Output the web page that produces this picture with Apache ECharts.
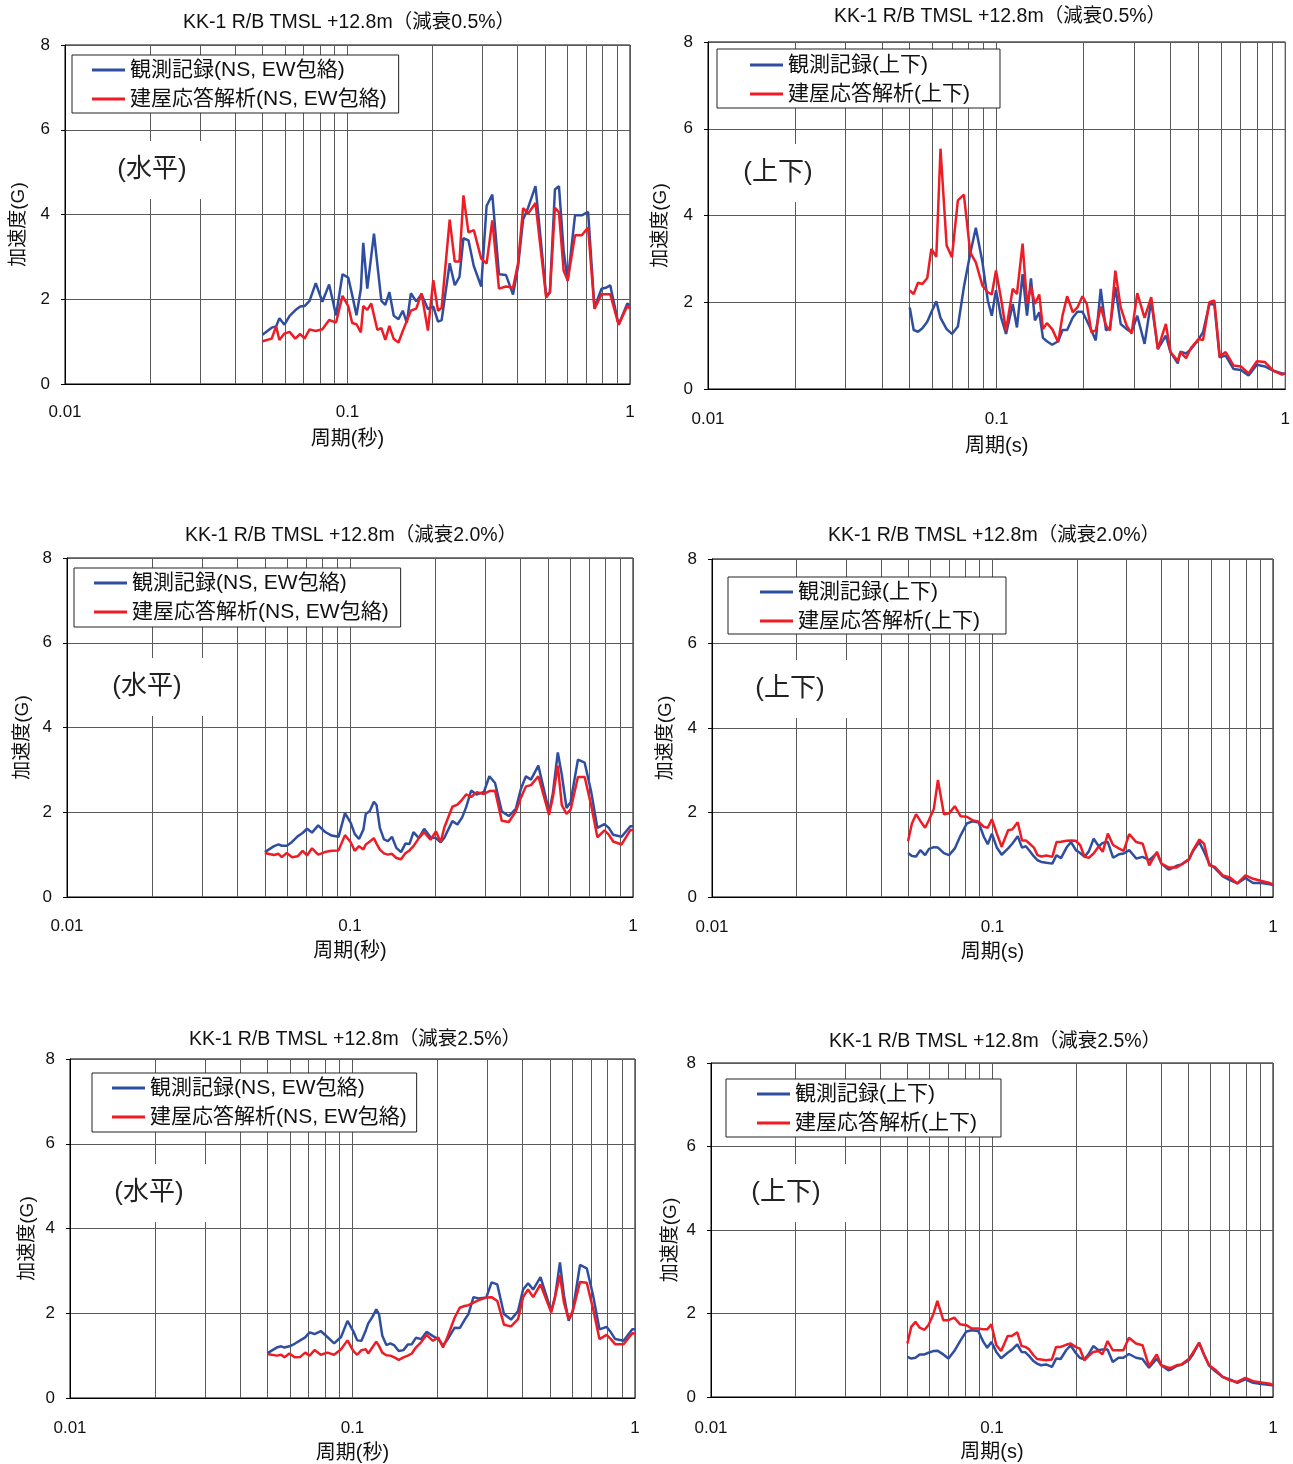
<!DOCTYPE html>
<html><head><meta charset="utf-8">
<script src="https://cdn.jsdelivr.net/npm/echarts@6/dist/echarts.min.js"></script>
<style>html,body{margin:0;padding:0;background:#fff}#c{width:1293px;height:1464px}</style>
</head><body><div id="c"></div>
<script>
// ---- data ----
const periodsH = [0.050,0.0539,0.0559,0.0574,0.0598,0.0624,0.0653,0.0680,0.0705,0.0734,
0.0772,0.0815,0.0861,0.0911,0.0960,0.1006,0.1039,0.1076,0.1115,0.1137,
0.1175,0.1214,0.1241,0.1275,0.1318,0.1361,0.1407,0.1458,0.1515,0.1569,
0.1622,0.1676,0.1751,0.1828,0.1926,0.2012,0.2091,0.2154,0.2300,0.2397,
0.2491,0.2573,0.2680,0.2800,0.2974,0.3107,0.3255,0.3437,0.3640,0.3855,
0.4016,0.4184,0.4359,0.4629,0.5051,0.5206,0.5424,0.5604,0.5823,0.6017,
0.6388,0.6749,0.7107,0.7485,0.7929,0.8215,0.8511,0.9114,0.9784,1.0];
const periodsV = [0.0500,0.0516,0.0534,0.0553,0.0575,0.0594,0.0618,0.0639,0.0671,0.0700,
0.0734,0.0770,0.0810,0.0847,0.0893,0.0932,0.0962,0.0995,0.1036,0.1078,
0.1137,0.1176,0.1230,0.1274,0.1315,0.1357,0.1405,0.1447,0.1493,0.1558,
0.1634,0.1691,0.1755,0.1836,0.1905,0.1983,0.2053,0.2130,0.2205,0.2294,
0.2393,0.2471,0.2578,0.2690,0.2821,0.2935,0.3071,0.3255,0.3432,0.3619,
0.3857,0.4002,0.4242,0.4333,0.4533,0.4717,0.5014,0.5189,0.5458,0.5679,
0.5925,0.6216,0.6622,0.7019,0.7461,0.7973,0.8496,0.9102,0.9752,1.0];

// horizontal, damping 0.5%
const h05Obs = [1.16,1.33,1.36,1.55,1.40,1.61,1.74,1.83,1.84,1.96,
2.38,1.94,2.35,1.62,2.59,2.51,2.10,1.62,2.24,3.33,
2.25,3.03,3.55,2.83,1.96,1.87,2.17,1.61,1.53,1.73,
1.45,2.14,1.95,2.12,1.77,1.83,1.47,1.51,2.85,2.33,
2.53,3.44,3.39,2.78,2.30,4.20,4.47,2.59,2.57,2.11,
2.78,3.88,4.16,4.67,2.08,2.17,4.59,4.67,3.14,2.43,
3.98,3.98,4.06,1.80,2.25,2.27,2.33,1.40,1.90,1.86];
const h05Ana = [1.01,1.07,1.36,1.04,1.19,1.23,1.07,1.18,1.07,1.29,
1.25,1.29,1.51,1.45,2.08,1.84,1.44,1.41,1.22,1.84,
1.75,1.90,1.62,1.28,1.32,1.04,1.37,1.06,0.98,1.25,
1.49,1.73,1.78,2.14,1.26,2.45,1.73,1.80,3.88,2.89,
2.89,4.45,3.58,3.63,2.96,2.84,3.86,2.25,2.30,2.27,
2.85,4.15,4.02,4.27,2.04,2.16,4.16,4.05,2.67,2.45,
3.51,3.51,3.69,1.77,2.12,2.12,2.12,1.40,1.84,1.78];
// horizontal, damping 2.0%
const h20Obs = [1.06,1.20,1.24,1.21,1.21,1.30,1.43,1.51,1.61,1.52,
1.69,1.54,1.45,1.42,1.98,1.75,1.49,1.37,1.59,1.96,
2.03,2.25,2.17,1.63,1.36,1.32,1.42,1.16,1.06,1.26,
1.25,1.53,1.39,1.61,1.41,1.39,1.29,1.40,1.79,1.71,
1.88,2.12,2.51,2.42,2.48,2.85,2.69,2.02,1.91,2.08,
2.55,2.85,2.77,3.10,2.01,2.43,3.41,2.88,2.10,2.24,
3.24,3.17,2.50,1.63,1.72,1.63,1.47,1.42,1.67,1.67];
const h20Ana = [1.04,0.99,1.02,0.94,1.04,0.94,0.96,1.09,0.98,1.15,
1.00,1.06,1.09,1.10,1.46,1.29,1.09,1.20,1.12,1.24,
1.31,1.39,1.26,1.12,1.03,1.00,1.02,0.92,0.89,1.03,
1.10,1.20,1.39,1.53,1.35,1.55,1.29,1.64,2.13,2.18,
2.30,2.42,2.36,2.47,2.43,2.50,2.51,1.80,1.77,2.02,
2.34,2.61,2.64,2.85,1.94,2.34,3.10,2.17,1.96,2.06,
2.83,2.83,2.18,1.41,1.57,1.47,1.31,1.24,1.58,1.58];
// horizontal, damping 2.5%
const h25Obs = [1.06,1.19,1.22,1.19,1.22,1.28,1.36,1.43,1.55,1.51,
1.58,1.44,1.29,1.44,1.82,1.58,1.36,1.35,1.60,1.76,
1.91,2.09,1.98,1.47,1.25,1.29,1.24,1.11,1.13,1.26,
1.27,1.42,1.39,1.56,1.46,1.39,1.24,1.35,1.66,1.65,
1.84,1.98,2.38,2.35,2.37,2.73,2.68,1.98,1.85,2.05,
2.56,2.71,2.56,2.85,2.05,2.37,3.20,2.42,1.82,2.05,
3.14,3.06,2.42,1.62,1.68,1.55,1.39,1.35,1.62,1.62];
const h25Ana = [1.04,1.00,1.02,0.96,1.05,0.96,0.97,1.07,1.00,1.13,
1.02,1.07,1.02,1.15,1.36,1.11,1.02,1.13,1.15,1.05,
1.19,1.33,1.23,1.07,1.01,1.00,0.96,0.90,0.96,1.00,
1.05,1.19,1.32,1.49,1.35,1.43,1.19,1.39,1.90,2.13,
2.17,2.19,2.25,2.31,2.37,2.38,2.29,1.73,1.69,1.86,
2.38,2.56,2.38,2.68,2.02,2.37,2.90,2.25,1.86,2.04,
2.74,2.72,2.10,1.39,1.49,1.39,1.27,1.27,1.53,1.52];
// vertical, damping 0.5%
const v05Obs = [1.88,1.36,1.32,1.40,1.55,1.77,2.02,1.64,1.38,1.27,
1.44,2.35,3.12,3.72,2.92,2.04,1.69,2.28,1.65,1.27,
1.96,1.42,2.65,1.69,2.55,1.58,1.77,1.18,1.10,1.02,
1.10,1.36,1.36,1.65,1.78,1.78,1.58,1.35,1.12,2.31,
1.35,1.42,2.35,1.50,1.38,1.31,1.69,1.04,2.04,0.92,
1.23,0.85,0.59,0.86,0.82,0.92,1.15,1.31,1.96,1.95,
0.73,0.77,0.46,0.44,0.31,0.56,0.52,0.42,0.36,0.36];
const v05Ana = [2.27,2.19,2.45,2.42,2.56,3.23,3.05,5.54,3.31,3.04,
4.35,4.48,3.15,2.92,2.38,2.23,2.18,2.73,2.08,1.35,
2.31,2.19,3.35,1.96,2.36,1.96,2.18,1.38,1.52,1.38,
1.08,1.69,2.14,1.77,1.88,2.14,1.96,1.31,1.35,1.90,
1.46,1.35,2.73,1.88,1.46,1.28,2.21,1.64,2.12,0.92,
1.50,0.85,0.65,0.85,0.71,0.95,1.15,1.13,2.00,2.04,
0.75,0.85,0.54,0.52,0.36,0.64,0.62,0.42,0.33,0.36];
// vertical, damping 2.0%
const v20Obs = [1.04,0.97,0.96,1.11,0.99,1.14,1.18,1.17,1.04,0.99,
1.15,1.46,1.74,1.79,1.76,1.42,1.25,1.50,1.17,1.00,
1.15,1.26,1.44,1.17,1.20,1.09,0.96,0.87,0.83,0.81,
0.79,0.99,0.92,1.17,1.30,1.11,1.04,0.95,1.08,1.38,
1.20,1.28,1.30,0.93,1.01,1.03,1.11,0.91,0.95,0.87,
1.04,0.79,0.65,0.67,0.74,0.77,0.89,1.09,1.30,1.07,
0.79,0.68,0.49,0.40,0.32,0.45,0.33,0.33,0.30,0.28];
const v20Ana = [1.32,1.74,1.96,1.80,1.64,1.83,2.09,2.77,1.96,1.98,
2.15,1.91,1.90,1.82,1.78,1.66,1.64,1.84,1.50,1.19,
1.58,1.60,1.77,1.34,1.34,1.26,1.17,0.99,0.96,0.98,
0.95,1.30,1.31,1.33,1.34,1.33,1.23,0.95,0.93,1.03,
1.20,1.07,1.50,1.23,1.15,1.09,1.49,1.30,1.26,0.75,
1.07,0.79,0.70,0.70,0.70,0.77,0.89,1.11,1.36,1.26,
0.75,0.71,0.51,0.46,0.32,0.51,0.43,0.38,0.33,0.30];
// vertical, damping 2.5%
const v25Obs = [0.96,0.92,0.94,1.02,1.02,1.06,1.10,1.11,1.02,0.92,
1.10,1.34,1.57,1.60,1.58,1.32,1.18,1.32,1.08,0.93,
1.06,1.13,1.26,1.08,1.07,0.98,0.86,0.80,0.76,0.78,
0.72,0.92,0.91,1.12,1.24,1.06,0.94,0.90,1.02,1.22,
1.12,1.14,1.14,0.84,0.94,0.94,1.03,0.94,0.91,0.70,
0.92,0.76,0.64,0.66,0.74,0.77,0.88,1.02,1.30,1.02,
0.75,0.62,0.48,0.42,0.34,0.42,0.34,0.31,0.29,0.28];
const v25Ana = [1.28,1.68,1.80,1.66,1.61,1.72,1.98,2.30,1.84,1.84,
1.90,1.74,1.72,1.64,1.64,1.62,1.62,1.74,1.24,1.10,
1.46,1.46,1.55,1.22,1.20,1.14,1.00,0.91,0.90,0.88,
0.90,1.20,1.20,1.25,1.28,1.20,1.16,0.88,0.98,1.08,
1.10,1.02,1.34,1.12,1.12,1.12,1.42,1.28,1.24,0.74,
1.02,0.76,0.70,0.70,0.76,0.78,0.91,1.06,1.30,1.02,
0.76,0.66,0.48,0.40,0.36,0.46,0.38,0.35,0.32,0.28];

const minorTicks = [0.02,0.03,0.04,0.05,0.06,0.07,0.08,0.09,0.2,0.3,0.4,0.5,0.6,0.7,0.8,0.9];
const titleTexts = ['KK-1 R/B TMSL +12.8m（減衰0.5%）','KK-1 R/B TMSL +12.8m（減衰2.0%）','KK-1 R/B TMSL +12.8m（減衰2.5%）'];
const obsH = '観測記録(NS, EW包絡)', anaH = '建屋応答解析(NS, EW包絡)';
const obsV = '観測記録(上下)', anaV = '建屋応答解析(上下)';

// ---- layout ----
const FONT = "'Liberation Sans','Noto Sans CJK JP',sans-serif";
const BLUE = '#2f4ea0', RED = '#ee1c25', GRIDC = '#5a5a5a';
const panels = [
 {g:{left:65,top:45,width:565,height:339}, per:periodsH, obs:h05Obs, ana:h05Ana, on:obsH, an:anaH, t:titleTexts[0], tx:349, ty:23,
  lg:{left:72,top:55,padding:[3,12,2,20]}, lab:'(水平)', lx:152, ly:170, xn:'周期(秒)', xg:45, lm:20, yg:37},
 {g:{left:708,top:42,width:580,height:347}, per:periodsV, obs:v05Obs, ana:v05Ana, on:obsV, an:anaV, t:titleTexts[0], tx:1000, ty:17,
  lg:{left:717,top:49,padding:[4,30,2,33]}, lab:'(上下)', lx:778, ly:173, xn:'周期(s)', xg:47, lm:22, yg:38},
 {g:{left:67,top:558,width:566,height:339}, per:periodsH, obs:h20Obs, ana:h20Ana, on:obsH, an:anaH, t:titleTexts[1], tx:351, ty:536,
  lg:{left:74,top:568,padding:[3,12,3,20]}, lab:'(水平)', lx:147, ly:687, xn:'周期(秒)', xg:44, lm:21, yg:35},
 {g:{left:712,top:559,width:561,height:338}, per:periodsV, obs:v20Obs, ana:v20Ana, on:obsV, an:anaV, t:titleTexts[1], tx:994, ty:536,
  lg:{left:728,top:577,padding:[3,26,1,32]}, lab:'(上下)', lx:790, ly:689, xn:'周期(s)', xg:45, lm:22, yg:37},
 {g:{left:70,top:1059,width:565,height:342}, per:periodsH, obs:h25Obs, ana:h25Ana, on:obsH, an:anaH, t:titleTexts[2], tx:355, ty:1040,
  lg:{left:92,top:1073,padding:[3,10,3,20]}, lab:'(水平)', lx:149, ly:1193, xn:'周期(秒)', xg:45, lm:22, yg:33},
 {g:{left:711,top:1063,width:562,height:334}, per:periodsV, obs:v25Obs, ana:v25Ana, on:obsV, an:anaV, t:titleTexts[2], tx:995, ty:1042,
  lg:{left:726,top:1079,padding:[3,24,2,31]}, lab:'(上下)', lx:786, ly:1193, xn:'周期(s)', xg:45, lm:23, yg:31}
];

const grid=[], xAxis=[], yAxis=[], series=[], legend=[], graphic=[];
panels.forEach((p,i)=>{
  grid.push(Object.assign({show:true, borderColor:'#000', borderWidth:1, backgroundColor:'#fff', containLabel:false}, p.g));
  xAxis.push({type:'log', logBase:10, min:0.01, max:1, gridIndex:i,
    axisLine:{show:true, lineStyle:{color:'#000', width:1}}, axisTick:{show:false},
    axisLabel:{fontSize:17, color:'#111', fontFamily:FONT, margin:p.lm, formatter:v=>String(+Number(v).toPrecision(3))},
    splitLine:{show:true, lineStyle:{color:GRIDC, width:1}},
    name:p.xn, nameLocation:'middle', nameGap:p.xg, nameTextStyle:{fontSize:20, color:'#111', fontFamily:FONT}});
  yAxis.push({type:'value', min:0, max:8, interval:2, gridIndex:i,
    axisLine:{show:true, lineStyle:{color:'#000', width:1}}, axisTick:{show:true, length:4, lineStyle:{color:'#000'}},
    axisLabel:{fontSize:17, color:'#111', fontFamily:FONT, margin:15},
    splitLine:{show:true, lineStyle:{color:GRIDC, width:1}},
    name:'加速度(G)', nameLocation:'middle', nameGap:p.yg, nameRotate:90,
    nameTextStyle:{fontSize:19, color:'#111', fontFamily:FONT, padding:[0,20,0,0]}});
  // minor vertical grid lines of the log axis
  series.push({type:'line', xAxisIndex:i, yAxisIndex:i, data:[], silent:true, z:1,
    markLine:{silent:true, z:1, symbol:['none','none'], animation:false, label:{show:false},
      lineStyle:{color:GRIDC, width:1, type:'solid'}, emphasis:{disabled:true},
      data:minorTicks.map(v=>({xAxis:v}))}});
  series.push({type:'line', name:p.on, xAxisIndex:i, yAxisIndex:i, showSymbol:false, symbol:'none', z:3,
    lineStyle:{color:BLUE, width:2.5}, itemStyle:{color:BLUE},
    data:p.per.map((t,k)=>[t,p.obs[k]])});
  series.push({type:'line', name:p.an, xAxisIndex:i, yAxisIndex:i, showSymbol:false, symbol:'none', z:4,
    lineStyle:{color:RED, width:2.5}, itemStyle:{color:RED},
    data:p.per.map((t,k)=>[t,p.ana[k]])});
  legend.push({data:[p.on,p.an], orient:'vertical', left:p.lg.left, top:p.lg.top, padding:p.lg.padding,
    backgroundColor:'#fff', borderColor:'#222', borderWidth:1, borderRadius:0,
    icon:'rect', itemWidth:33, itemHeight:3, itemGap:5, selectedMode:false, z:6,
    textStyle:{fontSize:21, lineHeight:24, color:'#111', fontFamily:FONT}});
  graphic.push({type:'text', x:p.tx, y:p.ty, z:10,
    style:{text:p.t, fontSize:19.5, fontFamily:FONT, fill:'#111', textAlign:'center', textVerticalAlign:'middle'}});
  graphic.push({type:'text', x:p.lx, y:p.ly, z:10,
    style:{text:p.lab, fontSize:26, fontFamily:FONT, fill:'#222', textAlign:'center', textVerticalAlign:'middle',
      backgroundColor:'#fff', padding:[16,30,16,30]}});
});

const chart = echarts.init(document.getElementById('c'), null, {renderer:'canvas'});
chart.setOption({animation:false, backgroundColor:'#fff', grid, xAxis, yAxis, series, legend, graphic});
</script></body></html>
